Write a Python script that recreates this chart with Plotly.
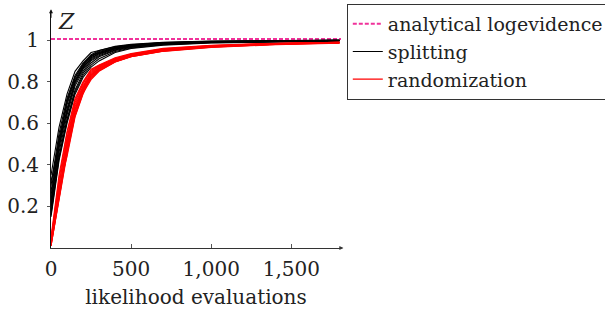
import plotly.graph_objects as go

# likelihood evaluations (x grid shared by all runs)
evaluations = [0, 50, 100, 150, 200, 250, 300, 400, 500, 700, 1000, 1400, 1800]

# normalised evidence Z for the "splitting" runs
splitting_runs = [
    [0.35, 0.58, 0.74, 0.85, 0.90, 0.94, 0.95, 0.970, 0.980, 0.990, 0.995, 0.998, 1.000],
    [0.30, 0.55, 0.72, 0.83, 0.89, 0.93, 0.95, 0.968, 0.978, 0.988, 0.994, 0.997, 0.999],
    [0.27, 0.53, 0.70, 0.82, 0.88, 0.925, 0.945, 0.965, 0.976, 0.987, 0.993, 0.997, 0.999],
    [0.25, 0.51, 0.69, 0.81, 0.875, 0.92, 0.94, 0.962, 0.975, 0.986, 0.993, 0.996, 0.998],
    [0.23, 0.49, 0.67, 0.80, 0.87, 0.91, 0.935, 0.960, 0.972, 0.985, 0.992, 0.996, 0.998],
    [0.21, 0.48, 0.66, 0.79, 0.86, 0.905, 0.93, 0.957, 0.970, 0.984, 0.991, 0.995, 0.998],
    [0.19, 0.46, 0.64, 0.78, 0.85, 0.90, 0.925, 0.953, 0.968, 0.982, 0.990, 0.995, 0.997],
    [0.17, 0.44, 0.62, 0.76, 0.84, 0.89, 0.92, 0.950, 0.965, 0.980, 0.989, 0.994, 0.997],
    [0.16, 0.43, 0.61, 0.75, 0.83, 0.88, 0.91, 0.945, 0.962, 0.978, 0.988, 0.993, 0.996],
    [0.15, 0.42, 0.60, 0.74, 0.82, 0.87, 0.90, 0.940, 0.960, 0.976, 0.986, 0.992, 0.995],
    [0.32, 0.50, 0.71, 0.82, 0.885, 0.925, 0.94, 0.963, 0.974, 0.986, 0.993, 0.996, 0.999],
    [0.20, 0.52, 0.65, 0.80, 0.865, 0.915, 0.935, 0.958, 0.971, 0.984, 0.992, 0.996, 0.998],
]

# normalised evidence Z for the "randomization" runs
randomization_runs = [
    [0.05, 0.35, 0.56, 0.72, 0.80, 0.86, 0.88, 0.915, 0.935, 0.960, 0.975, 0.985, 0.990],
    [0.04, 0.33, 0.55, 0.71, 0.795, 0.855, 0.878, 0.912, 0.933, 0.958, 0.974, 0.984, 0.990],
    [0.04, 0.31, 0.53, 0.70, 0.79, 0.85, 0.875, 0.910, 0.930, 0.956, 0.973, 0.984, 0.989],
    [0.03, 0.30, 0.52, 0.69, 0.78, 0.845, 0.872, 0.908, 0.928, 0.955, 0.972, 0.983, 0.989],
    [0.03, 0.28, 0.51, 0.68, 0.775, 0.84, 0.87, 0.905, 0.927, 0.954, 0.971, 0.982, 0.988],
    [0.02, 0.27, 0.50, 0.67, 0.77, 0.835, 0.866, 0.903, 0.925, 0.952, 0.970, 0.982, 0.988],
    [0.02, 0.26, 0.49, 0.665, 0.765, 0.83, 0.862, 0.900, 0.924, 0.951, 0.969, 0.981, 0.987],
    [0.02, 0.25, 0.48, 0.66, 0.76, 0.825, 0.86, 0.898, 0.922, 0.950, 0.968, 0.980, 0.987],
    [0.01, 0.24, 0.47, 0.65, 0.755, 0.82, 0.856, 0.896, 0.921, 0.948, 0.967, 0.980, 0.986],
    [0.01, 0.23, 0.46, 0.64, 0.75, 0.815, 0.853, 0.895, 0.920, 0.947, 0.966, 0.979, 0.986],
    [0.01, 0.22, 0.45, 0.635, 0.745, 0.81, 0.85, 0.895, 0.920, 0.946, 0.965, 0.978, 0.985],
    [0.03, 0.29, 0.44, 0.63, 0.74, 0.83, 0.864, 0.902, 0.926, 0.953, 0.970, 0.982, 0.988],
]

analytical_Z = 1.005
x_ticks = [0, 500, 1000, 1500]
x_tick_labels = ["0", "500", "1,000", "1,500"]
y_ticks = [0.2, 0.4, 0.6, 0.8, 1.0]
y_tick_labels = ["0.2", "0.4", "0.6", "0.8", "1"]

FONT = "DejaVu Serif"
PINK = "#f0329a"
TXT = "#222222"

fig = go.Figure()

fig.add_trace(go.Scatter(
    x=[0, 1810], y=[analytical_Z, analytical_Z], mode="lines",
    line=dict(color=PINK, width=2, dash="4px,2px"),
    name="analytical logevidence", showlegend=True, cliponaxis=False,
))

for i, run in enumerate(splitting_runs):
    fig.add_trace(go.Scatter(
        x=evaluations, y=run, mode="lines",
        line=dict(color="black", width=1.1),
        name="splitting", legendgroup="splitting", showlegend=(i == 0),
    ))

for i, run in enumerate(randomization_runs):
    fig.add_trace(go.Scatter(
        x=evaluations, y=run, mode="lines",
        line=dict(color="#ff0000", width=1.1),
        name="randomization", legendgroup="randomization", showlegend=(i == 0),
    ))

fig.update_layout(
    width=605, height=309,
    margin=dict(l=51, r=264, t=11, b=61, autoexpand=False),
    paper_bgcolor="white", plot_bgcolor="white",
    font=dict(family=FONT, size=20, color=TXT),
    showlegend=True,
    legend=dict(
        x=1.02, y=1.03, xanchor="left", yanchor="top",
        bgcolor="white", bordercolor="#333333", borderwidth=1,
        font=dict(family=FONT, size=19, color=TXT),
        tracegroupgap=0, itemwidth=30,
    ),
)

fig.update_xaxes(
    range=[0, 1810], tickmode="array", tickvals=x_ticks, ticktext=x_tick_labels,
    showgrid=False, zeroline=False, showline=True, linecolor="#333333", linewidth=1,
    ticks="inside", ticklen=4, tickcolor="#555555", ticklabelstandoff=3,
    title=dict(text="likelihood evaluations", standoff=13,
               font=dict(family=FONT, size=20, color=TXT)),
)
fig.update_yaxes(
    range=[0, 1.14], tickmode="array", tickvals=y_ticks, ticktext=y_tick_labels,
    showgrid=False, zeroline=False, showline=True, linecolor="#111111", linewidth=1,
    ticks="outside", ticklen=3, tickcolor="#555555", ticklabelstandoff=4,
)

# axis arrows
fig.add_annotation(x=1825, y=0, ax=1790, ay=0, xref="x", yref="y", axref="x", ayref="y",
                   showarrow=True, arrowhead=2, arrowsize=0.8, arrowwidth=1,
                   arrowcolor="#333333", text="")
fig.add_annotation(x=0, y=1.148, ax=0, ay=1.10, xref="x", yref="y", axref="x", ayref="y",
                   showarrow=True, arrowhead=2, arrowsize=0.8, arrowwidth=1,
                   arrowcolor="#111111", text="")
# axis label Z
fig.add_annotation(x=0, y=1.088, xref="x", yref="y", xanchor="left", yanchor="middle",
                   xshift=5, showarrow=False, text="<i>Z</i>",
                   font=dict(family=FONT, size=22, color=TXT))

fig.write_html("out.html", config={"displayModeBar": False},
               post_script="document.body.style.margin='0';")
